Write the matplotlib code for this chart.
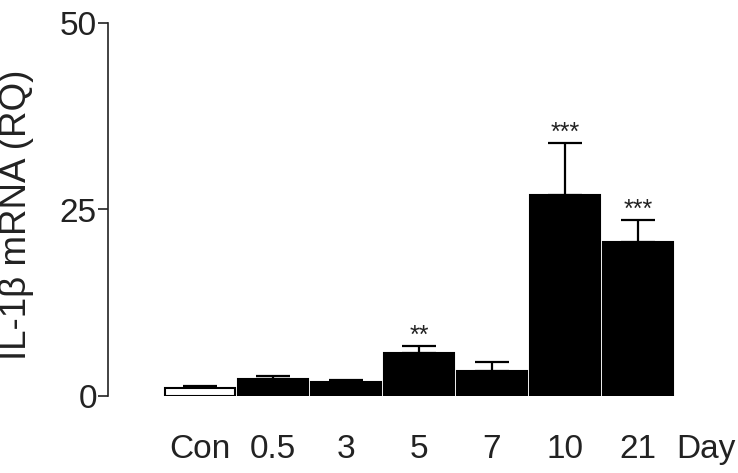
import matplotlib
matplotlib.use("Agg")
import matplotlib.pyplot as plt
import numpy as np

plt.rcParams['font.family'] = ['Liberation Sans', 'DejaVu Sans']

groups = ["Con", "0.5", "3", "5", "7", "10", "21"]
means = [1.1, 2.3, 1.85, 5.8, 3.3, 26.9, 20.6]
sem = [0.25, 0.35, 0.3, 0.95, 1.2, 7.0, 3.0]
stars = ["", "", "", "**", "", "***", "***"]
fills = ["white", "black", "black", "black", "black", "black", "black"]
yticks = [0, 25, 50]

fig = plt.figure(figsize=(7.38, 4.73), dpi=100)
ax = fig.add_axes([108 / 738, 1 - 396 / 473, 1 - 108 / 738, (396 - 23) / 473])

x = np.arange(len(groups))
ax.bar(x, means, width=0.95, color=fills, edgecolor="black", linewidth=1.5, zorder=2)
ax.errorbar(x, means, yerr=[np.zeros(len(sem)), sem], fmt="none", ecolor="black",
            elinewidth=1.6, capsize=12.5, capthick=1.6, zorder=1)

for xi, m, s, st in zip(x, means, sem, stars):
    if st:
        ax.text(xi, m + s - 0.3, st, ha="center", va="bottom", fontsize=18, color="#222222")

ax.set_xlim(-1.26, 7.37)
ax.set_ylim(0, 50)
ax.set_yticks(yticks)
ax.set_yticklabels([str(t) for t in yticks], fontsize=24, color="#222222")
ax.tick_params(axis="y", length=7, width=1.2, pad=1, color="#222222")
ax.set_xticks(list(x) + [6.93])
ax.set_xticklabels(groups + ["Day"], fontsize=24, color="#222222")
ax.tick_params(axis="x", length=0, pad=27)

for side in ["top", "right", "bottom"]:
    ax.spines[side].set_visible(False)
ax.spines["left"].set_linewidth(1.2)
ax.spines["left"].set_color("#222222")

ax.set_ylabel("IL-1\u03b2 mRNA (RQ)", fontsize=26.5, color="#222222")
ax.yaxis.set_label_coords(-0.118, 0.485)

fig.savefig("out.png", dpi=100, facecolor="white")
